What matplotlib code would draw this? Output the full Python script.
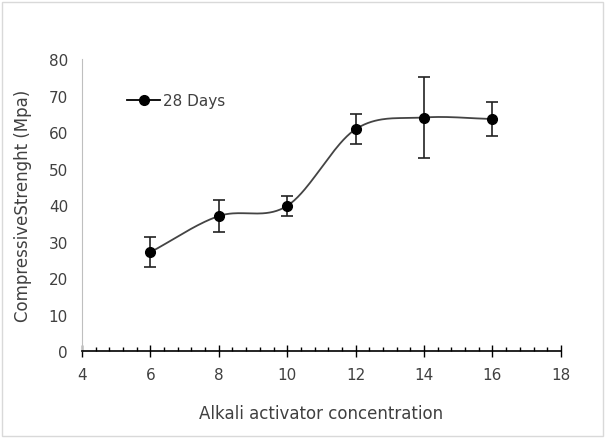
import numpy as np
import matplotlib
matplotlib.use("Agg")
import matplotlib.pyplot as plt
from matplotlib.patches import Rectangle
from matplotlib.lines import Line2D
from matplotlib.ticker import MultipleLocator

# data
concentration = [6, 8, 10, 12, 14, 16]
strength = [27.1, 37.0, 39.8, 60.8, 64.0, 63.6]
strength_err = [4.1, 4.3, 2.7, 4.1, 11.0, 4.6]
series_label = "28 Days"

plt.rcParams["font.family"] = ["Liberation Sans Narrow", "DejaVu Sans"]


def smooth_curve(x, y, n=40):
    """Excel-style smoothed line (Catmull-Rom through the points)."""
    x = np.asarray(x, float)
    y = np.asarray(y, float)
    px = np.concatenate([[2 * x[0] - x[1]], x, [2 * x[-1] - x[-2]]])
    py = np.concatenate([[2 * y[0] - y[1]], y, [2 * y[-1] - y[-2]]])
    xs, ys = [], []
    t = np.linspace(0, 1, n)
    for i in range(1, len(px) - 2):
        p0, p1, p2, p3 = [np.array([px[j], py[j]]) for j in range(i - 1, i + 3)]
        c1 = p1 + (p2 - p0) / 6
        c2 = p2 - (p3 - p1) / 6
        pts = ((1 - t) ** 3)[:, None] * p1 + (3 * (1 - t) ** 2 * t)[:, None] * c1 \
            + (3 * (1 - t) * t ** 2)[:, None] * c2 + (t ** 3)[:, None] * p2
        xs.extend(pts[:, 0])
        ys.extend(pts[:, 1])
    return np.array(xs), np.array(ys)


fig = plt.figure(figsize=(6.07, 4.39), dpi=100)
fig.patches.append(Rectangle((0.004, 0.004), 0.99, 0.99, transform=fig.transFigure,
                             fill=False, edgecolor="#d9d9d9", linewidth=1))
ax = fig.add_axes([0.135, 0.198, 0.789, 0.665])

sx, sy = smooth_curve(concentration, strength)
ax.plot(sx, sy, color="#444444", linewidth=1.3, zorder=2)
ax.errorbar(concentration, strength, yerr=strength_err, fmt="o", color="black",
            markersize=7, ecolor="#222222", elinewidth=1.2, capsize=4,
            capthick=1.2, zorder=3)

ax.set_xlim(4, 18)
ax.set_ylim(0, 80)
ax.xaxis.set_major_locator(MultipleLocator(2))
ax.xaxis.set_minor_locator(MultipleLocator(0.4))
ax.yaxis.set_major_locator(MultipleLocator(10))
ax.tick_params(axis="x", which="major", direction="inout", length=9, width=1,
               labelsize=11, colors="black", labelcolor="#404040", pad=7)
ax.tick_params(axis="x", which="minor", direction="in", length=3, width=1)
ax.tick_params(axis="y", length=0, labelsize=11, labelcolor="#404040", pad=10)

for side in ("top", "right"):
    ax.spines[side].set_visible(False)
ax.spines["left"].set_color("#bfbfbf")
ax.spines["bottom"].set_color("black")
ax.spines["bottom"].set_linewidth(1.2)

ax.set_xlabel("Alkali activator concentration", fontsize=12, color="#404040",
              labelpad=16)
ax.set_ylabel("CompressiveStrenght (Mpa)", fontsize=12, color="#404040",
              family=["DejaVu Sans"], labelpad=12)

handle = Line2D([], [], color="black", marker="o", markersize=7, linewidth=1.3)
ax.legend([handle], [series_label], loc="upper left", bbox_to_anchor=(0.065, 0.93),
          frameon=False, fontsize=11, handlelength=2.2, handletextpad=0.2,
          labelcolor="#404040")

fig.savefig("out.png", dpi=100)
